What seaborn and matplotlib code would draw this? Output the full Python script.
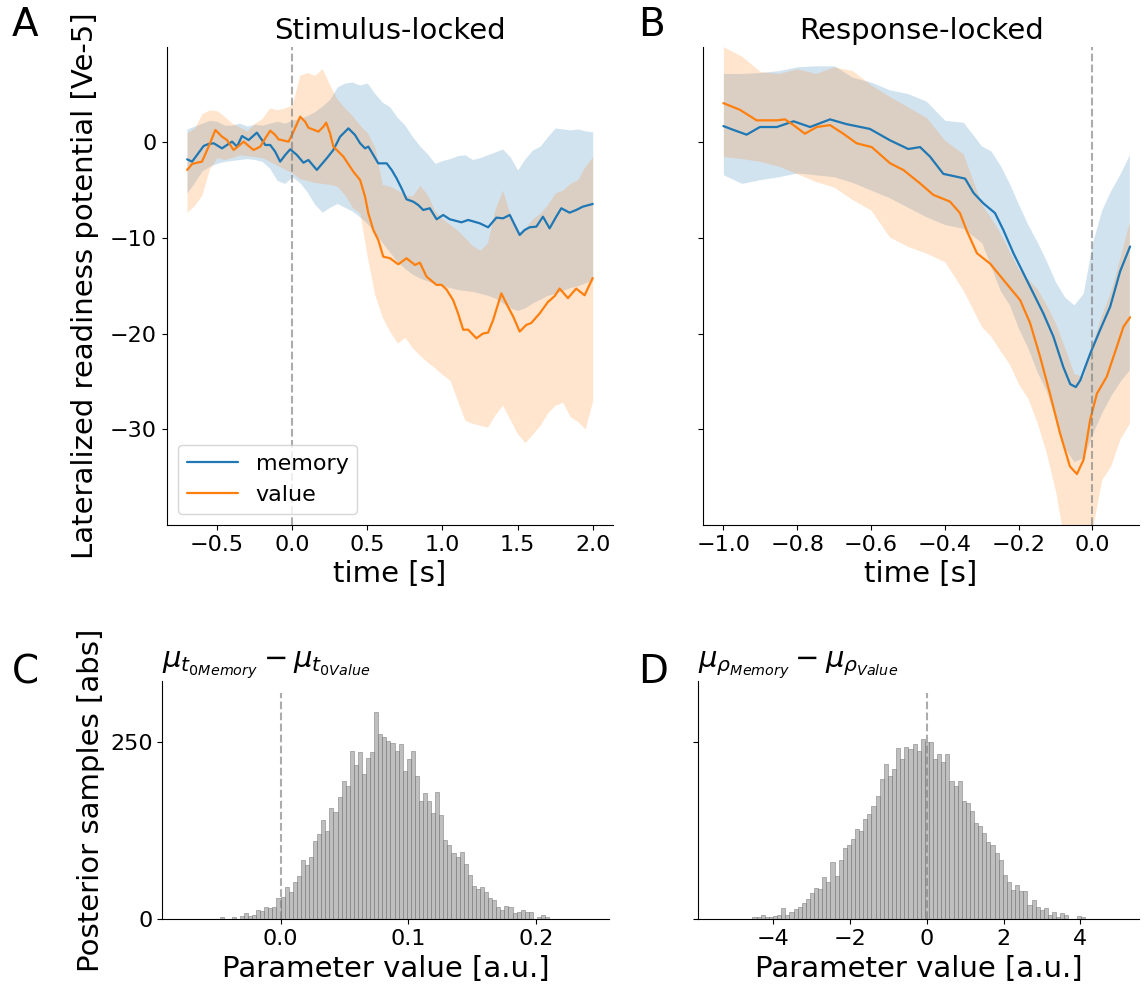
import numpy as np
import pandas as pd
import matplotlib
matplotlib.use("Agg")
import matplotlib.pyplot as plt
import seaborn as sns

# ---------------- Panel A: stimulus-locked ----------------
a_mem_t = [-0.699, -0.666, -0.589, -0.556, -0.522, -0.467, -0.434, -0.400, -0.367, -0.334,
           -0.290, -0.235, -0.201, -0.179, -0.146, -0.113, -0.080, -0.046, -0.013, 0.031,
           0.075, 0.108, 0.164, 0.230, 0.274, 0.319, 0.374, 0.418, 0.452, 0.485,
           0.507, 0.540, 0.573, 0.629, 0.662, 0.695, 0.728, 0.761, 0.806, 0.839,
           0.872, 0.916, 0.961, 1.005, 1.049, 1.127, 1.171, 1.248, 1.304, 1.359,
           1.403, 1.448, 1.481, 1.514, 1.547, 1.580, 1.625, 1.669, 1.713, 1.757,
           1.791, 1.846, 1.890, 1.934, 2.000]
a_mem_v = [-1.78, -2.02, -0.38, -0.17, -0.10, -0.63, -0.28, 0.07, -0.45, 0.66,
           0.24, 1.01, 0.24, -0.28, -0.28, -0.98, -2.02, -1.32, -0.73, -1.32,
           -2.13, -1.85, -2.89, -1.67, -0.80, 0.59, 1.46, 0.77, -0.10, -0.63,
           -0.45, -1.32, -2.20, -2.20, -2.89, -3.77, -4.81, -5.96, -6.21, -6.56,
           -7.08, -6.90, -8.05, -7.60, -8.05, -8.37, -8.12, -8.47, -8.89, -7.88,
           -7.95, -7.60, -8.65, -9.69, -9.17, -8.89, -8.82, -7.78, -9.00, -7.78,
           -6.90, -7.36, -7.08, -6.73, -6.45]

a_val_t = [-0.699, -0.666, -0.633, -0.600, -0.556, -0.511, -0.467, -0.434, -0.390, -0.356,
           -0.323, -0.290, -0.257, -0.212, -0.179, -0.146, -0.113, -0.091, -0.024, 0.009,
           0.053, 0.086, 0.108, 0.175, 0.208, 0.226, 0.252, 0.274, 0.341, 0.407,
           0.452, 0.485, 0.507, 0.540, 0.573, 0.606, 0.651, 0.706, 0.761, 0.817,
           0.850, 0.894, 0.961, 0.994, 1.027, 1.071, 1.104, 1.138, 1.171, 1.226,
           1.270, 1.304, 1.337, 1.392, 1.436, 1.470, 1.514, 1.558, 1.591, 1.647,
           1.702, 1.746, 1.780, 1.835, 1.890, 1.946, 2.000]
a_val_v = [-2.89, -2.27, -2.13, -2.02, -0.45, 1.29, 0.59, 0.24, -0.80, -0.38,
           0.07, -0.38, -0.80, -0.45, 0.42, 1.22, 0.77, 0.31, 0.07, 1.12,
           2.68, 2.16, 1.53, 1.12, 1.64, 2.06, 0.94, -0.45, -1.50, -3.07,
           -3.94, -5.68, -7.43, -9.17, -10.22, -11.96, -12.13, -12.76, -12.13, -12.83,
           -12.59, -14.05, -14.92, -14.90, -15.40, -16.50, -17.90, -19.60, -19.60, -20.50,
           -20.00, -19.90, -18.60, -15.80, -17.20, -18.20, -19.80, -19.10, -18.90, -17.90,
           -16.70, -16.10, -15.30, -16.30, -15.30, -16.00, -14.20]

a_band_t = [-0.70, -0.65, -0.60, -0.55, -0.50, -0.45, -0.40, -0.35, -0.30, -0.25,
            -0.20, -0.15, -0.10, -0.05, 0.00, 0.05, 0.10, 0.15, 0.20, 0.25,
            0.30, 0.35, 0.40, 0.45, 0.50, 0.55, 0.60, 0.65, 0.70, 0.75,
            0.80, 0.85, 0.90, 0.95, 1.00, 1.05, 1.10, 1.15, 1.20, 1.25,
            1.30, 1.35, 1.40, 1.45, 1.50, 1.55, 1.60, 1.65, 1.70, 1.75,
            1.80, 1.85, 1.90, 1.95, 2.00]
a_mem_hi = [1.4, 1.7, 2.0, 2.3, 2.2, 1.8, 1.8, 2.0, 1.7, 1.9,
            1.8, 2.0, 2.2, 2.0, 2.3, 2.5, 2.8, 3.2, 3.8, 4.5,
            5.8, 6.2, 6.3, 6.0, 6.2, 5.1, 4.2, 3.7, 2.6, 1.8,
            0.6, -0.4, -1.2, -2.2, -1.9, -1.7, -1.4, -1.3, -1.8, -1.6,
            -1.3, -1.0, -0.7, -1.5, -2.9, -1.7, -0.8, -0.4, 0.6, 1.5,
            1.4, 1.3, 1.4, 1.2, 1.1]
a_mem_lo = [-5.3, -4.2, -3.0, -2.5, -2.2, -2.0, -1.9, -1.8, -1.7, -1.8,
            -2.0, -2.7, -4.0, -4.3, -3.6, -4.2, -5.2, -6.5, -7.3, -6.8,
            -6.4, -6.8, -7.2, -7.8, -8.5, -9.5, -10.5, -11.5, -12.5, -13.2,
            -13.8, -14.2, -14.5, -14.8, -15.0, -15.2, -15.4, -15.5, -15.6, -15.8,
            -16.0, -16.3, -16.8, -17.3, -17.6, -17.3, -16.8, -16.4, -16.0, -15.8,
            -15.5, -15.2, -15.0, -14.7, -14.4]
a_val_hi = [1.0, 1.5, 3.0, 3.4, 3.3, 2.7, 2.0, 1.6, 1.2, 2.0,
            2.5, 3.6, 3.4, 3.6, 3.9, 7.0, 7.3, 7.0, 7.7, 6.0,
            4.5, 3.6, 2.8, 1.8, 1.0, -0.5, -4.4, -4.6, -5.0, -5.5,
            -5.6, -4.5, -5.5, -7.2, -8.0, -8.6, -9.2, -10.0, -10.8, -11.3,
            -10.5, -7.0, -5.0, -7.5, -9.5, -9.0, -8.0, -7.4, -6.5, -5.3,
            -5.0, -4.3, -3.9, -2.5, -1.5]
a_val_lo = [-7.3, -6.6, -5.5, -2.8, -1.6, -1.8, -1.6, -1.3, -1.4, -1.5,
            -1.6, -2.0, -2.4, -2.8, -3.2, -3.8, -4.0, -4.2, -4.3, -4.4,
            -4.6, -5.5, -6.8, -7.4, -12.0, -16.0, -18.3, -19.8, -21.0, -20.4,
            -21.5, -22.3, -23.0, -23.6, -24.3, -24.9, -27.0, -29.1, -29.4, -29.6,
            -29.8, -28.5, -27.5, -29.0, -30.5, -31.4, -30.5, -29.6, -28.3, -27.5,
            -27.2, -28.7, -29.2, -30.0, -27.0]

# ---------------- Panel B: response-locked ----------------
b_mem_t = [-1.000, -0.973, -0.937, -0.901, -0.855, -0.810, -0.765, -0.711, -0.666, -0.603,
           -0.548, -0.499, -0.467, -0.440, -0.404, -0.368, -0.345, -0.322, -0.295, -0.264,
           -0.241, -0.214, -0.187, -0.151, -0.133, -0.106, -0.079, -0.060, -0.045, -0.033,
           -0.006, 0.021, 0.048, 0.075, 0.102]
b_mem_v = [1.7, 1.3, 0.8, 1.6, 1.6, 2.2, 1.6, 2.4, 1.9, 1.4,
           0.2, -0.7, -0.5, -1.5, -3.3, -3.6, -3.8, -5.3, -6.4, -7.4,
           -9.2, -11.6, -13.7, -16.5, -17.9, -20.3, -23.5, -25.3, -25.6, -24.9,
           -22.1, -19.6, -17.2, -13.5, -10.9]

b_val_t = [-1.000, -0.955, -0.910, -0.855, -0.833, -0.810, -0.779, -0.747, -0.711, -0.675,
           -0.639, -0.598, -0.548, -0.512, -0.467, -0.431, -0.386, -0.359, -0.341, -0.313,
           -0.277, -0.241, -0.196, -0.169, -0.142, -0.115, -0.088, -0.061, -0.042, -0.024,
           -0.006, 0.012, 0.039, 0.066, 0.084, 0.102]
b_val_v = [4.1, 3.4, 2.3, 2.3, 2.4, 1.8, 0.9, 1.6, 1.8, 0.9,
           -0.1, -0.5, -2.2, -2.9, -4.3, -5.5, -6.2, -7.4, -9.2, -11.6,
           -12.7, -14.4, -16.5, -18.9, -22.4, -26.3, -30.4, -33.9, -34.7, -33.2,
           -29.0, -26.3, -24.5, -21.4, -19.3, -18.3]

b_band_t = [-1.0, -0.95, -0.9, -0.85, -0.8, -0.75, -0.7, -0.65, -0.6, -0.55,
            -0.5, -0.45, -0.4, -0.35, -0.3, -0.275, -0.25, -0.225, -0.2, -0.175,
            -0.15, -0.125, -0.1, -0.075, -0.05, -0.025, 0.0, 0.025, 0.05, 0.075, 0.1]
b_mem_hi = [7.2, 7.2, 7.3, 7.5, 7.9, 8.0, 8.0, 6.8, 6.3, 5.5,
            5.1, 4.3, 2.3, 2.1, -0.4, -0.9, -2.4, -4.3, -6.5, -8.6,
            -10.4, -12.4, -14.6, -16.2, -17.0, -15.8, -10.5, -7.1, -5.0, -3.3, -1.3]
b_mem_lo = [-3.4, -4.3, -3.9, -3.6, -3.2, -3.4, -3.6, -4.2, -5.0, -5.8,
            -6.8, -7.8, -8.6, -9.0, -10.5, -13.0, -15.5, -17.0, -19.5, -21.5,
            -24.0, -26.0, -29.0, -32.0, -33.4, -33.0, -30.5, -28.3, -26.5, -25.0, -23.8]
b_val_hi = [10.0, 9.0, 7.4, 7.2, 7.7, 7.2, 7.9, 7.5, 6.0, 4.8,
            3.7, 2.6, 0.2, -1.2, -6.5, -7.9, -9.5, -11.4, -13.3, -14.3,
            -15.3, -17.0, -18.9, -21.5, -24.2, -24.5, -21.0, -18.0, -15.5, -12.0, -8.3]
b_val_lo = [-1.5, -1.7, -2.0, -2.5, -3.3, -4.1, -4.7, -6.0, -7.1, -9.9,
            -10.9, -11.6, -12.5, -15.5, -19.3, -20.3, -21.8, -23.2, -25.3, -26.8,
            -29.3, -32.5, -36.5, -42.0, -42.0, -42.0, -40.5, -35.3, -33.8, -31.0, -29.4]

# ---------------- Panel C / D: posterior histograms (bin counts) ----------------
c_first_edge = -0.0606
c_bin_width = 0.00319
c_counts = [1, 1, 1, 1, 3, 1, 1, 3, 1,
            5, 9, 5, 6, 13, 12, 18, 16, 17,
            30, 32, 45, 38, 52, 61, 84, 76, 88, 110, 120, 140, 124, 157, 151, 172, 195, 188,
            237, 217, 236, 205, 227, 236,
            292,
            261, 257, 251, 248, 237, 247, 209, 226, 237, 202, 167, 178, 167, 150, 179, 147,
            112, 105, 93, 88, 95, 78, 62, 47, 43, 46, 38, 30, 27, 17, 13, 19, 17, 9, 10, 13,
            10, 10, 1, 3, 6, 3, 1, 1]

d_first_edge = -4.654
d_bin_width = 0.107
d_counts = [1, 3, 3, 6, 3, 3, 5, 6, 16, 6, 10, 15, 17, 23, 29, 37, 44, 43, 60, 53,
            81, 61, 84, 100, 105, 113, 127, 124, 141, 148, 160, 174, 198, 219, 202, 212,
            241, 226, 243, 240, 247, 237, 254, 250, 250, 226, 233, 221, 233, 195, 188, 195,
            167, 164, 153, 136, 131, 122, 109, 105, 93, 84, 62, 53, 41, 48, 40, 40, 20, 27,
            17, 13, 16, 6, 10, 3, 9, 6, 1, 0, 5, 3]

c_title = r"$\mu_{t_{0Memory}} - \mu_{t_{0Value}}$"
d_title = r"$\mu_{\rho_{Memory}} - \mu_{\rho_{Value}}$"

MEM_C = "#1f77b4"
VAL_C = "#ff7f0e"
TICK_FS = 16
LAB_FS = 21

sns.set_style("ticks")
plt.rcParams["font.family"] = ["DejaVu Sans"]
plt.rcParams.update({
    "text.color": "black",
    "axes.labelcolor": "black",
    "axes.edgecolor": "black",
    "xtick.color": "black",
    "ytick.color": "black",
})

W, H = 1146, 989
fig = plt.figure(figsize=(W / 100, H / 100), dpi=100)


def rect(l, t, r, b):
    return [l / W, 1 - b / H, (r - l) / W, (b - t) / H]


ax_a = fig.add_axes(rect(166.7, 47, 613, 525))
ax_b = fig.add_axes(rect(702.7, 47, 1139.3, 525), sharey=ax_a)
ax_c = fig.add_axes(rect(162.3, 680.7, 609.3, 919.3))
ax_d = fig.add_axes(rect(698.3, 680.7, 1139.3, 919.3), sharey=ax_c)


def draw_erp(ax, band_t, mhi, mlo, vhi, vlo, mt, mv, vt, vv):
    ax.fill_between(band_t, mlo, mhi, color=MEM_C, alpha=0.2, lw=0)
    ax.fill_between(band_t, vlo, vhi, color=VAL_C, alpha=0.2, lw=0)
    sns.lineplot(x=mt, y=mv, ax=ax, color=MEM_C, lw=1.6, label="memory", sort=False)
    sns.lineplot(x=vt, y=vv, ax=ax, color=VAL_C, lw=1.6, label="value", sort=False)
    ax.axvline(0, color="gray", ls="--", alpha=0.65, lw=1.5)


draw_erp(ax_a, a_band_t, a_mem_hi, a_mem_lo, a_val_hi, a_val_lo,
         a_mem_t, a_mem_v, a_val_t, a_val_v)
draw_erp(ax_b, b_band_t, b_mem_hi, b_mem_lo, b_val_hi, b_val_lo,
         b_mem_t, b_mem_v, b_val_t, b_val_v)

ax_a.set_xlim(-0.835, 2.135)
ax_b.set_xlim(-1.056, 0.127)
ax_a.set_ylim(-40.03, 9.97)
ax_a.set_yticks([0, -10, -20, -30])
ax_a.set_xticks([-0.5, 0.0, 0.5, 1.0, 1.5, 2.0])
ax_b.set_xticks([-1.0, -0.8, -0.6, -0.4, -0.2, 0.0])
ax_a.legend(loc="lower left", fontsize=16, handlelength=2.3)
if ax_b.get_legend() is not None:
    ax_b.get_legend().remove()
ax_a.set_title("Stimulus-locked", fontsize=LAB_FS)
ax_b.set_title("Response-locked", fontsize=LAB_FS)
ax_a.set_xlabel("time [s]", fontsize=LAB_FS)
ax_b.set_xlabel("time [s]", fontsize=LAB_FS)
ax_a.set_ylabel("Lateralized readiness potential [Ve-5]", fontsize=LAB_FS)
ax_b.set_ylabel("")
ax_b.tick_params(labelleft=False)


def draw_hist(ax, first_edge, width, counts, title):
    n = len(counts)
    centers = first_edge + width * (np.arange(n) + 0.5)
    df = pd.DataFrame({"value": centers, "count": np.asarray(counts, dtype=float)})
    sns.histplot(data=df, x="value", weights="count", bins=n,
                 binrange=(first_edge, first_edge + n * width), ax=ax, color="gray",
                 alpha=0.5, edgecolor="gray", linewidth=0.4)
    ax.axvline(0, ymax=0.95, color="gray", ls="--", alpha=0.65, lw=1.5)
    ax.set_title(title, fontsize=LAB_FS, loc="left")
    ax.set_xlabel("Parameter value [a.u.]", fontsize=LAB_FS)


draw_hist(ax_c, c_first_edge, c_bin_width, c_counts, c_title)
draw_hist(ax_d, d_first_edge, d_bin_width, d_counts, d_title)
ax_c.set_xlim(-0.0927, 0.2577)
ax_d.set_xlim(-5.96, 5.54)
ax_c.set_ylim(0, 336)
ax_c.set_yticks([0, 250])
ax_c.set_xticks([0.0, 0.1, 0.2])
ax_d.set_xticks([-4, -2, 0, 2, 4])
ax_c.set_ylabel("Posterior samples [abs]", fontsize=LAB_FS)
ax_d.set_ylabel("")
ax_d.tick_params(labelleft=False)

for ax in (ax_a, ax_b, ax_c, ax_d):
    sns.despine(ax=ax)
    ax.tick_params(labelsize=TICK_FS, colors="black")

ax_a.yaxis.set_label_coords(-0.152, 0.5)
ax_c.yaxis.set_label_coords(-0.128, 0.5)

for letter, x, y in (("A", 12, 36), ("B", 638, 36), ("C", 12, 683), ("D", 638, 683)):
    fig.text(x / W, 1 - y / H, letter, fontsize=28, ha="left", va="baseline")

fig.savefig("out.png", dpi=100)
